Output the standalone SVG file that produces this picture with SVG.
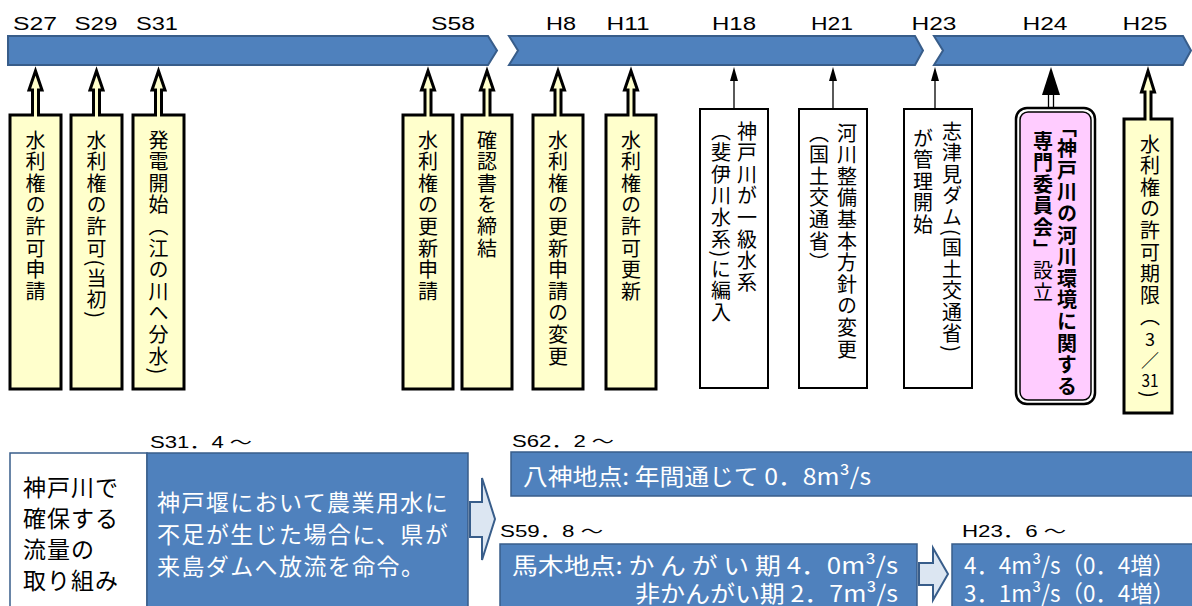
<svg xmlns="http://www.w3.org/2000/svg" width="1192" height="606" viewBox="0 0 1192 606">
<style>
.bar{fill:#4f81bd;stroke:#385d8a;stroke-width:2}
.call{fill:#ffffcc;stroke:#000;stroke-width:3}
.wbox{fill:#fff;stroke:#000;stroke-width:2}
.vt{font-family:"Noto Sans CJK JP",sans-serif;font-size:20px;writing-mode:vertical-rl;letter-spacing:1.6px;fill:#000}
.ht{font-family:"Noto Sans CJK JP",sans-serif;font-size:18px;fill:#000}
.lbl{font-family:"Liberation Sans","Noto Sans CJK JP",sans-serif;font-size:18px;fill:#000}
.lbl2{font-family:"Liberation Sans","Noto Sans CJK JP",sans-serif;font-size:16px;fill:#000}
.bbox{fill:#4f81bd;stroke:#385d8a;stroke-width:1.5}
.wt{font-family:"Noto Sans CJK JP",sans-serif;font-size:23px;fill:#fff}
.wt2{font-family:"Noto Sans CJK JP",sans-serif;font-size:23px;fill:#fff}
.bt{font-family:"Noto Sans CJK JP",sans-serif;font-size:23px;fill:#000}
.barrow{fill:#dce6f2;stroke:#385d8a;stroke-width:2}
.thin{stroke:#000;stroke-width:1.3;fill:none}
</style>

<g id="timeline">
<polygon class="bar" points="8,36 488,36 497,50.5 488,65 8,65"/>
<polygon class="bar" points="509,36 915,36 923,50.5 915,65 509,65 518,50.5"/>
<polygon class="bar" points="934,36 1183,36 1191,50.5 1183,65 934,65 943,50.5"/>
<g text-anchor="middle" class="lbl">
<text x="35" y="30" textLength="44" lengthAdjust="spacingAndGlyphs">S27</text>
<text x="96" y="30" textLength="43" lengthAdjust="spacingAndGlyphs">S29</text>
<text x="157" y="30" textLength="42" lengthAdjust="spacingAndGlyphs">S31</text>
<text x="453" y="30" textLength="44" lengthAdjust="spacingAndGlyphs">S58</text>
<text x="561" y="30" textLength="30" lengthAdjust="spacingAndGlyphs">H8</text>
<text x="628" y="30" textLength="43" lengthAdjust="spacingAndGlyphs">H11</text>
<text x="734" y="30" textLength="44" lengthAdjust="spacingAndGlyphs">H18</text>
<text x="832" y="30" textLength="42" lengthAdjust="spacingAndGlyphs">H21</text>
<text x="934" y="30" textLength="45" lengthAdjust="spacingAndGlyphs">H23</text>
<text x="1045" y="30" textLength="45" lengthAdjust="spacingAndGlyphs">H24</text>
<text x="1145" y="30" textLength="45" lengthAdjust="spacingAndGlyphs">H25</text>
</g>
</g>

<g id="connectors">
<line class="thin" x1="734" y1="109" x2="734" y2="78"/>
<polygon points="734,67 730,81 738,81" fill="#000"/>
<line class="thin" x1="833" y1="109" x2="833" y2="78"/>
<polygon points="833,67 829,81 837,81" fill="#000"/>
<line class="thin" x1="935" y1="109" x2="935" y2="78"/>
<polygon points="935,67 931,81 939,81" fill="#000"/>
<line class="thin" x1="1048.5" y1="108" x2="1048.5" y2="94"/>
<line class="thin" x1="1053.5" y1="108" x2="1053.5" y2="94"/>
<polygon points="1051,67 1042,95 1060,95" fill="#000"/>
</g>

<g id="n-s27">
<path class="call" d="M10,115 H32.5 V90 H29 L35.5,71 L42,90 H38.5 V115 H61 V389 H10 Z"/>
<text class="vt" x="35.5" y="130">水利権の許可申請</text>
</g>
<g id="n-s29">
<path class="call" d="M71,115 H93.5 V90 H90 L96.5,71 L103,90 H99.5 V115 H122 V389 H71 Z"/>
<text class="vt" x="96.5" y="130">水利権の許可(当初)</text>
</g>
<g id="n-s31">
<path class="call" d="M133,115 H155.5 V90 H152 L158.5,71 L165,90 H161.5 V115 H184 V389 H133 Z"/>
<text class="vt" x="158.5" y="130">発電開始（江の川へ分水)</text>
</g>
<g id="n-s58a">
<path class="call" d="M403,115 H425 V90 H421.5 L428,71 L434.5,90 H431 V115 H453 V389 H403 Z"/>
<text class="vt" x="428" y="130">水利権の更新申請</text>
</g>
<g id="n-s58b">
<path class="call" d="M462,115 H484 V90 H480.5 L487,71 L493.5,90 H490 V115 H512 V389 H462 Z"/>
<text class="vt" x="487" y="130">確認書を締結</text>
</g>
<g id="n-h8">
<path class="call" d="M533,115 H555 V90 H551.5 L558,71 L564.5,90 H561 V115 H583 V389 H533 Z"/>
<text class="vt" x="558" y="130">水利権の更新申請の変更</text>
</g>
<g id="n-h11">
<path class="call" d="M606,115 H628 V90 H624.5 L631,71 L637.5,90 H634 V115 H656 V389 H606 Z"/>
<text class="vt" x="631" y="130">水利権の許可更新</text>
</g>
<g id="n-h18">
<rect class="wbox" x="700" y="109" width="68" height="279"/>
<text class="vt" x="747" y="121">神戸川が一級水系</text>
<text class="vt" x="721" y="121">（斐伊川水系)に編入</text>
</g>
<g id="n-h21">
<rect class="wbox" x="799" y="109" width="68" height="279"/>
<text class="vt" x="847" y="123">河川整備基本方針の変更</text>
<text class="vt" x="819" y="123">（国土交通省）</text>
</g>
<g id="n-h23">
<rect class="wbox" x="904" y="109" width="68" height="279"/>
<text class="vt" x="952" y="121">志津見ダム(国土交通省)</text>
<text class="vt" x="923" y="128">が管理開始</text>
</g>
<g id="n-h24">
<rect x="1016" y="108" width="79" height="296" rx="11" fill="#fff" stroke="#000" stroke-width="2.5"/>
<rect x="1020" y="112" width="71" height="288" rx="8" fill="#ffccff" stroke="#000" stroke-width="1.5"/>
<text class="vt" x="1067" y="117" font-weight="bold">「神戸川の河川環境に関する</text>
<text class="vt" x="1043" y="131"><tspan font-weight="bold">専門委員会」</tspan>設立</text>
</g>
<g id="n-h25">
<path class="call" d="M1124,119 H1145 V92 H1141.5 L1148,71 L1154.5,92 H1151 V119 H1172 V413 H1124 Z"/>
<text class="vt" x="1150" y="134">水利権の許可期限（</text>
<text class="ht" x="1150" y="346" text-anchor="middle">3</text>
<text class="ht" x="1150" y="367" text-anchor="middle">／</text>
<text class="ht" x="1150" y="387" text-anchor="middle" textLength="17" lengthAdjust="spacingAndGlyphs">31</text>
<text class="vt" x="1150" y="391">)</text>
</g>

<g id="flow-title">
<rect x="10" y="453" width="137" height="160" fill="#fff" stroke="#385d8a" stroke-width="1.5"/>
<text class="bt" x="23" y="496" letter-spacing="1">神戸川で</text>
<text class="bt" x="23" y="527" letter-spacing="1">確保する</text>
<text class="bt" x="23" y="558" letter-spacing="1">流量の</text>
<text class="bt" x="23" y="589" letter-spacing="1">取り組み</text>
</g>
<g id="flow-s31">
<text class="lbl2" x="150" y="448" textLength="102" lengthAdjust="spacingAndGlyphs">S31．4 ～</text>
<rect class="bbox" x="147" y="453" width="321" height="160"/>
<text class="wt" x="157" y="511" letter-spacing="1.4">神戸堰において農業用水に</text>
<text class="wt" x="157" y="543" letter-spacing="1.4">不足が生じた場合に、県が</text>
<text class="wt" x="157" y="575" letter-spacing="1.4">来島ダムへ放流を命令。</text>
</g>
<g id="arrow1">
<polygon class="barrow" points="470,502 482,502 482,478 495,519 482,560 482,537 470,537"/>
</g>
<g id="flow-s62">
<text class="lbl2" x="512" y="447" textLength="102" lengthAdjust="spacingAndGlyphs">S62．2 ～</text>
<rect class="bbox" x="511" y="452" width="690" height="44"/>
<text class="wt2" x="523" y="485" textLength="348" lengthAdjust="spacingAndGlyphs">八神地点: 年間通じて 0．8m³/s</text>
</g>
<g id="flow-s59">
<text class="lbl2" x="500" y="537" textLength="103" lengthAdjust="spacingAndGlyphs">S59．8 ～</text>
<rect class="bbox" x="500" y="544" width="417" height="70"/>
<text class="wt2" x="512" y="574" textLength="386" lengthAdjust="spacingAndGlyphs">馬木地点: か ん が い 期 4．0m³/s</text>
<text class="wt2" x="635" y="602" textLength="263" lengthAdjust="spacingAndGlyphs">非かんがい期 2．7m³/s</text>
</g>
<g id="arrow2">
<polygon class="barrow" points="919,563 933,563 933,548 948,574 933,600 933,585 919,585"/>
</g>
<g id="flow-h23">
<text class="lbl2" x="962" y="537" textLength="104" lengthAdjust="spacingAndGlyphs">H23．6 ～</text>
<rect class="bbox" x="952" y="544" width="250" height="70"/>
<text class="wt2" x="964" y="574" textLength="211" lengthAdjust="spacingAndGlyphs">4．4m³/s（0．4増）</text>
<text class="wt2" x="964" y="602" textLength="211" lengthAdjust="spacingAndGlyphs">3．1m³/s（0．4増）</text>
</g>
</svg>
